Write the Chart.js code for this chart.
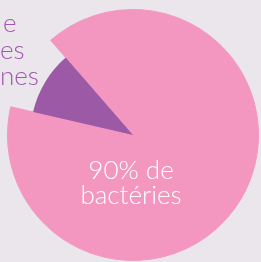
<!DOCTYPE html>
<html>
<head>
<meta charset="utf-8">
<script src="https://cdn.jsdelivr.net/npm/chart.js@4"></script>
<style>
  html, body { margin: 0; padding: 0; background: #ebe6ec; overflow: hidden; }
  #wrap { width: 261px; height: 262px; }
</style>
</head>
<body>
<div id="wrap"><canvas id="pieChart" width="261" height="262"></canvas></div>
<script>
// donnees
const categories = ['bactéries', 'autres'];
const valeurs = [90, 10];
const texteCentre = ['90% de', 'bactéries'];
const texteGauche = ['e', 'es', 'nes'];

const rose = '#f397c0';
const violet = '#9c5aa6';

// ecrit le texte blanc au milieu et le texte coupe a gauche
const textes = {
    id: 'textes',
    afterDraw(chart) {
        const ctx = chart.ctx;
        ctx.save();
        ctx.textAlign = 'center';
        ctx.textBaseline = 'alphabetic';
        ctx.fillStyle = '#ffffff';
        ctx.font = '300 26px Lato';
        ctx.fillText(texteCentre[0], 131, 179);
        ctx.fillText(texteCentre[1], 131, 204);

        ctx.textAlign = 'left';
        ctx.fillStyle = '#a058ad';
        ctx.font = '300 26px Lato';
        ctx.fillText(texteGauche[0], 3, 32);
        ctx.fillText(texteGauche[1], 0, 59);
        ctx.fillText(texteGauche[2], 0, 85);
        ctx.restore();
    }
};

document.addEventListener("DOMContentLoaded", function() {
    const ctx = document.getElementById('pieChart').getContext('2d');
    new Chart(ctx, {
        type: 'pie',
        data: {
            labels: categories,
            datasets: [{
                // anneau exterieur : seulement la part rose
                data: valeurs,
                backgroundColor: [rose, 'rgba(0,0,0,0)'],
                borderColor: [rose, 'rgba(0,0,0,0)'],
                borderWidth: [1, 0],
                weight: 23
            }, {
                data: valeurs,
                backgroundColor: [rose, violet],
                borderColor: [rose, violet],
                borderWidth: [1, 0],
                weight: 103
            }]
        },
        options: {
            responsive: false,
            animation: false,
            rotation: -41,
            layout: { padding: { left: 7, top: 9, right: 2, bottom: 1 } },
            plugins: {
                legend: { display: false },
                tooltip: { enabled: false }
            }
        },
        plugins: [textes]
    });
});
</script>
</body>
</html>
